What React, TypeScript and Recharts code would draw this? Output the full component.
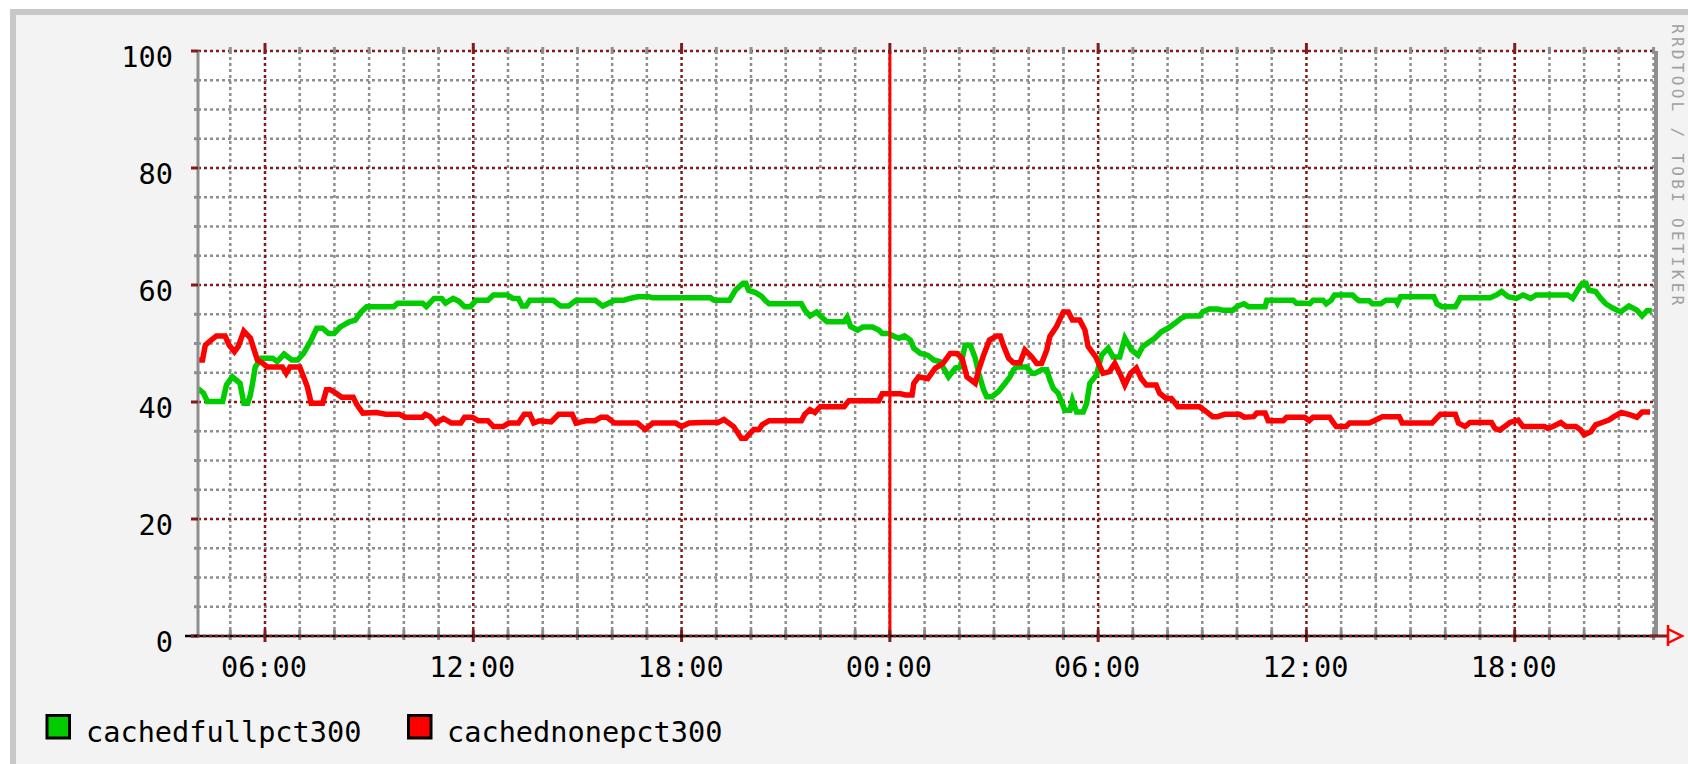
import { LineChart, Line, XAxis, YAxis, ReferenceLine } from 'recharts'

// hours since 00:00 of the first day
const fullHours = [
  4.07, 4.23, 4.34, 4.78, 4.89, 5.06, 5.28, 5.39, 5.5, 5.58, 5.65, 5.72, 5.89, 6.22, 6.35, 6.55, 6.77, 6.94,
  7.11, 7.33, 7.49, 7.66, 7.83, 7.99, 8.16, 8.43, 8.6, 8.77, 8.93, 9.71, 9.82, 10.54, 10.65, 10.87, 11.09,
  11.2, 11.42, 11.59, 11.75, 11.92, 12.08, 12.42, 12.58, 12.97, 13.14, 13.3, 13.41, 13.52, 13.63, 14.3,
  14.52, 14.74, 14.96, 15.51, 15.73, 16.07, 16.34, 16.51, 16.73, 17.06, 17.17, 18.83, 18.94, 19.38, 19.55,
  19.77, 19.85, 19.93, 20.13, 20.3, 20.42, 20.52, 21.45, 21.55, 21.7, 21.89, 22.04, 22.19, 22.68, 22.77,
  22.87, 23.07, 23.22, 23.5, 23.68, 23.78, 23.97, 24.09, 24.26, 24.42, 24.59, 24.69, 24.88, 25.09, 25.26,
  25.44, 25.69, 25.89, 26.03, 26.17, 26.32, 26.46, 26.56, 26.7, 26.79, 26.94, 27.13, 27.32, 27.46, 27.56,
  27.65, 27.94, 28.09, 28.18, 28.37, 28.52, 28.61, 28.71, 28.85, 29.04, 29.19, 29.26, 29.38, 29.57, 29.67,
  29.76, 29.95, 30.1, 30.29, 30.43, 30.62, 30.77, 30.96, 31.15, 31.29, 31.48, 31.63, 31.82, 32.01, 32.2,
  32.39, 32.54, 32.92, 33.01, 33.2, 33.44, 33.59, 33.88, 34.02, 34.2, 34.33, 34.81, 34.86, 35.62, 35.71,
  35.95, 36.1, 36.19, 36.48, 36.57, 36.71, 36.81, 37.33, 37.43, 37.52, 37.81, 37.9, 38.14, 38.29, 38.57,
  38.62, 38.71, 39.67, 39.76, 39.9, 40.29, 40.38, 40.43, 41.29, 41.48, 41.62, 41.81, 42.05, 42.24, 42.46,
  42.62, 43.52, 43.67, 43.81, 43.95, 44.05, 44.14, 44.33, 44.48, 44.62, 44.81, 45.05, 45.29, 45.52, 45.67,
  45.81, 45.95,
]
const fullPct = [
  42.3, 41.5, 40.1, 40.1, 42.9, 44.3, 43.2, 39.8, 39.8, 41.2, 43.5, 46.0, 47.5, 47.5, 46.9, 48.2, 47.2, 47.2,
  48.3, 50.6, 52.6, 52.6, 51.7, 51.7, 52.8, 53.7, 54.0, 55.4, 56.3, 56.3, 56.9, 56.9, 56.3, 57.7, 57.7,
  56.9, 57.7, 57.2, 56.3, 56.3, 57.4, 57.4, 58.3, 58.3, 57.7, 57.7, 56.4, 56.4, 57.4, 57.4,
  56.4, 56.4, 57.4, 57.4, 56.4, 57.4, 57.4, 57.7, 58.0, 58.0, 57.8, 57.8, 57.4, 57.4, 59.1,
  60.3, 60.3, 59.1, 58.7, 58.1, 57.3, 56.8, 56.8, 55.7, 54.7, 55.4, 54.5, 53.7, 53.7, 54.5,
  52.9, 52.3, 52.8, 52.8, 52.3, 51.7, 51.7, 51.3, 50.9, 51.3, 50.6, 49.2, 48.3, 48.0, 47.2,
  46.9, 44.3, 45.8, 46.0, 49.7, 49.7, 47.5, 44.9, 42.1, 40.9, 40.9, 41.8, 43.2, 44.3, 45.5,
  46.0, 46.0, 44.9, 44.9, 45.5, 45.5, 43.8, 42.3, 41.5, 38.6, 38.6, 40.3, 38.3, 38.3, 39.8,
  43.2, 44.6, 48.0, 49.2, 47.7, 47.7, 50.9, 48.9, 48.0, 49.5, 50.3, 50.9, 52.0, 52.6, 53.4,
  54.3, 54.7, 54.7, 55.4, 55.9, 55.9, 55.7, 55.7, 56.4, 56.8, 56.3, 56.3, 57.4, 57.4, 56.9,
  56.9, 56.8, 57.4, 57.4, 56.8, 57.4, 58.3, 58.3, 57.7, 57.3, 57.3, 56.8, 56.8, 57.4, 57.4,
  56.9, 58.0, 58.0, 56.8, 56.3, 56.3, 57.2, 57.8, 57.8, 58.3, 58.9, 58.0, 57.7, 58.3, 57.7,
  58.3, 58.3, 57.7, 59.1, 60.3, 60.3, 59.1, 58.9, 57.7, 56.8, 56.1, 55.4, 56.4, 55.7, 54.7,
  55.6, 55.6,
]

const noneHours = [
  4.07, 4.2, 4.28, 4.45, 4.6, 4.85, 4.97, 5.12, 5.23, 5.39, 5.58, 5.67, 5.78, 5.94, 6.06, 6.5, 6.61, 6.72,
  7.0, 7.11, 7.22, 7.33, 7.66, 7.77, 7.88, 8.05, 8.21, 8.54, 8.65, 8.82, 9.21, 9.48, 9.87, 10.04, 10.54,
  10.62, 10.76, 10.92, 11.14, 11.37, 11.64, 11.75, 11.97, 12.14, 12.42, 12.58, 12.86, 13.02, 13.3, 13.47,
  13.63, 13.74, 13.91, 14.24, 14.46, 14.85, 14.96, 15.24, 15.51, 15.68, 15.85, 16.07, 16.73, 16.95, 17.17,
  17.83, 18.0, 18.22, 18.61, 19.05, 19.22, 19.5, 19.72, 19.85, 19.93, 20.08, 20.23, 20.32, 20.52, 21.45,
  21.55, 21.7, 21.84, 21.99, 22.68, 22.82, 23.68, 23.78, 24.31, 24.45, 24.64, 24.69, 24.83, 25.09, 25.31,
  25.53, 25.74, 25.93, 26.08, 26.22, 26.46, 26.56, 26.7, 26.87, 27.08, 27.18, 27.27, 27.42, 27.56, 27.75,
  27.89, 28.09, 28.23, 28.37, 28.52, 28.61, 28.8, 29.0, 29.14, 29.26, 29.47, 29.62, 29.71, 29.93, 30.14,
  30.33, 30.48, 30.67, 30.77, 30.93, 31.1, 31.24, 31.39, 31.67, 31.77, 31.96, 32.11, 32.3, 32.92, 33.06,
  33.3, 33.44, 33.64, 34.07, 34.21, 34.48, 34.57, 34.81, 34.9, 35.33, 35.43, 35.95, 36.08, 36.19, 36.67,
  36.76, 36.86, 37.14, 37.24, 37.81, 37.95, 38.19, 38.67, 38.76, 39.62, 39.71, 39.86, 40.29, 40.38, 40.57,
  40.71, 41.33, 41.43, 41.57, 41.71, 41.86, 42.1, 42.24, 42.86, 42.95, 43.1, 43.33, 43.48, 43.76, 43.89,
  44.0, 44.19, 44.33, 44.52, 44.71, 44.86, 45.07, 45.33, 45.52, 45.67, 45.9,
]
const nonePct = [
  47.2, 47.2, 49.7, 50.6, 51.3, 51.3, 49.7, 48.6, 49.5, 52.1, 50.9, 49.2, 47.2, 46.6, 46.0, 46.0, 44.9, 46.0,
  46.0, 44.3, 42.6, 39.8, 39.8, 42.1, 42.1, 41.5, 40.8, 40.8, 39.5, 38.1, 38.2, 37.9, 37.9, 37.4, 37.4,
  37.9, 37.5, 36.4, 37.2, 36.4, 36.4, 37.4, 37.4, 36.8, 36.8, 35.8, 35.8, 36.4, 36.4, 37.9,
  37.9, 36.4, 36.8, 36.6, 37.9, 37.9, 36.4, 36.8, 36.8, 37.4, 37.4, 36.4, 36.4, 35.3, 36.4,
  36.4, 35.8, 36.4, 36.5, 36.5, 37.0, 35.8, 33.8, 33.8, 34.4, 35.3, 35.3, 36.1, 36.8, 36.8,
  37.9, 38.7, 38.2, 39.2, 39.2, 40.2, 40.2, 41.4, 41.4, 41.2, 41.2, 43.2, 44.3, 44.0, 45.8,
  46.6, 48.3, 48.3, 47.5, 44.3, 43.2, 45.5, 48.0, 50.6, 51.3, 51.3, 49.7, 47.5, 46.7, 46.7,
  48.9, 47.7, 46.6, 46.6, 48.9, 51.2, 52.9, 55.4, 55.4, 54.0, 54.0, 52.3, 49.5, 47.7, 44.9,
  45.2, 46.6, 44.3, 42.9, 44.9, 45.8, 44.0, 42.9, 42.9, 41.5, 40.6, 40.6, 39.2, 39.2, 38.6,
  37.5, 37.5, 37.9, 37.9, 37.4, 37.5, 38.1, 38.1, 36.8, 36.8, 37.4, 37.4, 36.8, 37.4, 37.4,
  36.6, 35.8, 35.8, 36.4, 36.4, 36.8, 37.5, 37.5, 36.4, 36.4, 37.0, 37.9, 37.9, 36.4, 35.8,
  36.5, 36.5, 35.5, 35.2, 35.8, 36.5, 36.9, 35.8, 35.8, 35.5, 35.8, 36.5, 35.8, 35.8, 35.3,
  34.4, 34.9, 36.1, 36.5, 36.9, 37.5, 38.2, 37.8, 37.4, 38.3, 38.3,
]

const majorHours = [6, 12, 18, 24, 30, 36, 42]
const hourLabels = ['06:00', '12:00', '18:00', '00:00', '06:00', '12:00', '18:00']
const minorHours = [5, 7, 8, 9, 10, 11, 13, 14, 15, 16, 17, 19, 20, 21, 22, 23, 25, 26, 27, 28, 29,
  31, 32, 33, 34, 35, 37, 38, 39, 40, 41, 43, 44, 45, 46]
const majorPct = [0, 20, 40, 60, 80, 100]
const minorPct = [5, 10, 15, 25, 30, 35, 45, 50, 55, 65, 70, 75, 85, 90, 95]

const X_MIN = 4.07
const X_MAX = 46.07

const PLOT_LEFT = 198
const PLOT_RIGHT = 1656
const PLOT_TOP = 51
const PLOT_BOTTOM = 636

const MONO = '"DejaVu Sans Mono", monospace'
const DARK_RED = '#801c1c'
const GRID_GRAY = '#8e8e8e'
const GREEN = '#00cc00'
const RED = '#ff0000'

const fullData = fullHours.map((h, i) => ({ h, v: fullPct[i] }))
const noneData = noneHours.map((h, i) => ({ h, v: nonePct[i] }))
const allHours = [...majorHours, ...minorHours].sort((a, b) => a - b)
const allPct = [...majorPct, ...minorPct].sort((a, b) => a - b)

const XTick = (props: any) => {
  const { x, payload } = props
  const idx = majorHours.indexOf(payload.value)
  const major = idx >= 0
  const color = major ? DARK_RED : GRID_GRAY
  return (
    <g>
      <line x1={x} x2={x} y1={PLOT_BOTTOM - 6} y2={PLOT_BOTTOM + (major ? 6 : 4)} stroke={color} strokeWidth={3} />
      <line x1={x} x2={x} y1={PLOT_TOP - (major ? 8 : 4)} y2={PLOT_TOP + 3} stroke={color} strokeWidth={3} />
      {major && (
        <text x={x - 1} y={677} textAnchor="middle" fontFamily={MONO} fontSize={28.6} fill="#000">
          {hourLabels[idx]}
        </text>
      )}
    </g>
  )
}

const LeftTick = (props: any) => {
  const { y, payload } = props
  const major = majorPct.includes(payload.value)
  return (
    <g>
      <line x1={PLOT_LEFT - (major ? 7 : 4)} x2={PLOT_LEFT} y1={y} y2={y} stroke={major ? DARK_RED : GRID_GRAY} strokeWidth={3} />
      {major && (
        <text x={173} y={y + 15.5} textAnchor="end" fontFamily={MONO} fontSize={28.6} fill="#000">
          {payload.value}
        </text>
      )}
    </g>
  )
}

const RightTick = (props: any) => {
  const { y, payload } = props
  const major = majorPct.includes(payload.value)
  return (
    <line x1={PLOT_RIGHT} x2={PLOT_RIGHT + (major ? 7 : 5)} y1={y} y2={y} stroke={major ? DARK_RED : GRID_GRAY} strokeWidth={3} />
  )
}

export default function App() {
  return (
    <div style={{ position: 'absolute', left: 0, top: 0, width: 1688, height: 764, background: '#fff', overflow: 'hidden' }}>
      <div style={{ position: 'absolute', left: 10, top: 9, right: 0, bottom: 0, background: '#c8c8c8' }} />
      <div style={{ position: 'absolute', left: 16, top: 15, right: 0, bottom: 0, background: '#f3f3f3' }} />
      <div style={{ position: 'absolute', left: PLOT_LEFT, top: PLOT_TOP, width: PLOT_RIGHT - PLOT_LEFT, height: PLOT_BOTTOM - PLOT_TOP, background: '#fff' }} />
      <div style={{ position: 'absolute', left: 0, top: 0 }}>
        <LineChart width={1688} height={764} margin={{ top: PLOT_TOP, right: 0, bottom: 0, left: 0 }}>
          <XAxis
            type="number"
            dataKey="h"
            domain={[X_MIN, X_MAX]}
            ticks={allHours}
            interval={0}
            allowDataOverflow
            height={764 - PLOT_BOTTOM}
            axisLine={false}
            tickLine={false}
            tick={(p: any) => <XTick {...p} />}
          />
          <YAxis
            domain={[0, 100]}
            ticks={allPct}
            interval={0}
            width={PLOT_LEFT}
            axisLine={{ stroke: GRID_GRAY, strokeWidth: 3 }}
            tickLine={false}
            tick={(p: any) => <LeftTick {...p} />}
          />
          <YAxis
            yAxisId="right"
            orientation="right"
            domain={[0, 100]}
            ticks={allPct}
            interval={0}
            width={1688 - PLOT_RIGHT}
            axisLine={{ stroke: GRID_GRAY, strokeWidth: 4 }}
            tickLine={false}
            tick={(p: any) => <RightTick {...p} />}
          />
          {minorPct.map((v) => (
            <ReferenceLine key={`hm-${v}`} y={v} stroke={GRID_GRAY} strokeWidth={2.5} strokeDasharray="3 3" />
          ))}
          {minorHours.map((h) => (
            <ReferenceLine key={`vm-${h}`} x={h} stroke={GRID_GRAY} strokeWidth={2.5} strokeDasharray="3 3" />
          ))}
          {majorPct.filter((v) => v > 0).map((v) => (
            <ReferenceLine key={`hM-${v}`} y={v} stroke={DARK_RED} strokeWidth={2.5} strokeDasharray="3 3" />
          ))}
          {majorHours.map((h) => (
            <ReferenceLine key={`vM-${h}`} x={h} stroke={DARK_RED} strokeWidth={2.5} strokeDasharray="3 3" />
          ))}
          <Line data={fullData} dataKey="v" type="linear" stroke={GREEN} strokeWidth={5.5} dot={false} isAnimationActive={false} />
          <Line data={noneData} dataKey="v" type="linear" stroke={RED} strokeWidth={5.5} dot={false} isAnimationActive={false} />
          <ReferenceLine x={24} stroke={RED} strokeWidth={3} />
        </LineChart>
      </div>
      <svg width={1688} height={764} style={{ position: 'absolute', left: 0, top: 0, pointerEvents: 'none' }}>
        <line x1={185} x2={1668} y1={PLOT_BOTTOM} y2={PLOT_BOTTOM} stroke="#000" strokeWidth={2.5} />
        <line x1={191} x2={1656} y1={PLOT_BOTTOM} y2={PLOT_BOTTOM} stroke={DARK_RED} strokeWidth={2.5} strokeDasharray="3 3" />
        <line x1={1650} x2={1667} y1={PLOT_BOTTOM} y2={PLOT_BOTTOM} stroke={DARK_RED} strokeWidth={2.5} />
        <line x1={1668} x2={1668} y1={625} y2={646} stroke={RED} strokeWidth={2.5} />
        <path d="M1668,629 L1682,636 L1668,643" fill="none" stroke={RED} strokeWidth={2.5} />
        <text transform="translate(1672,24) rotate(90)" fontFamily={MONO} fontSize={16} letterSpacing={3.3} fill="#a0a0a0">
          RRDTOOL / TOBI OETIKER
        </text>
        <rect x={47} y={715.5} width={22.5} height={22.5} fill={GREEN} stroke="#000" strokeWidth={3} />
        <text x={86} y={742} fontFamily={MONO} fontSize={28.6} fill="#000">cachedfullpct300</text>
        <rect x={408.5} y={715.5} width={22.5} height={22.5} fill={RED} stroke="#000" strokeWidth={3} />
        <text x={447} y={742} fontFamily={MONO} fontSize={28.6} fill="#000">cachednonepct300</text>
      </svg>
    </div>
  )
}
